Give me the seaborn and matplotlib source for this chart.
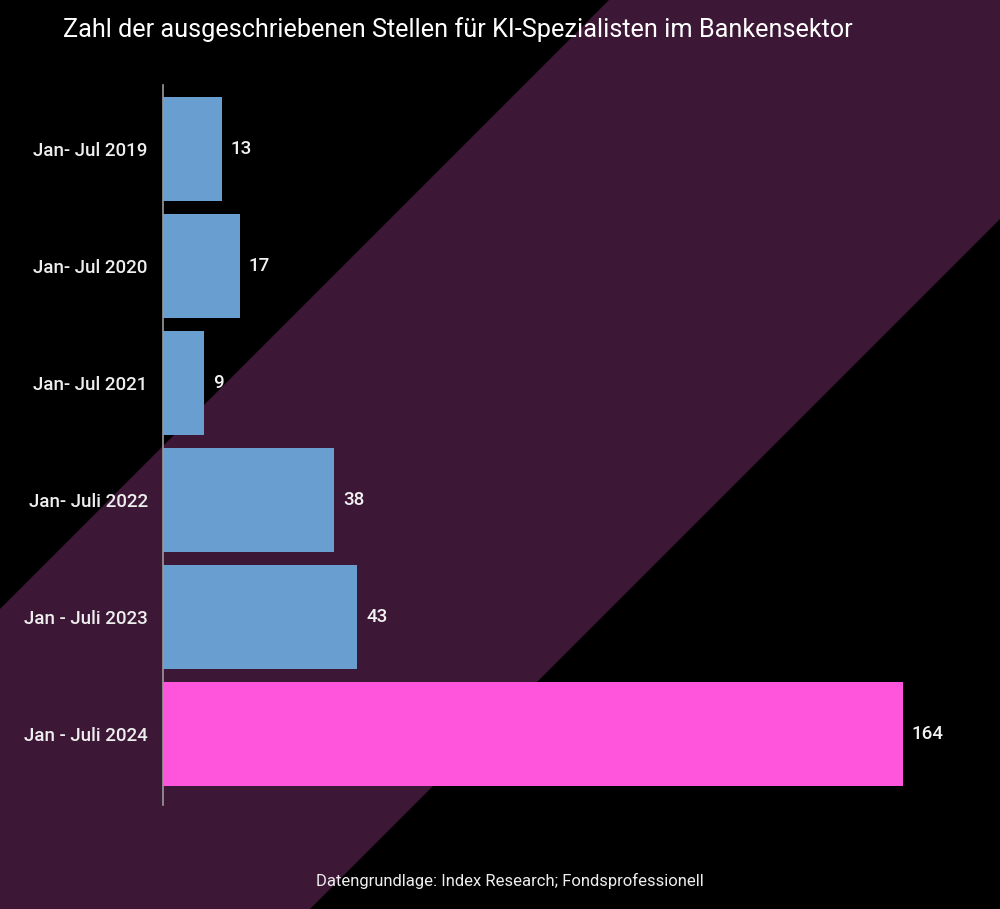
import matplotlib
matplotlib.use("Agg")
import matplotlib.pyplot as plt
from matplotlib.patches import Polygon
import seaborn as sns
import pandas as pd

categories = ["Jan- Jul 2019", "Jan- Jul 2020", "Jan- Jul 2021", "Jan- Juli 2022",
              "Jan - Juli 2023", "Jan - Juli 2024"]
values = [13, 17, 9, 38, 43, 164]
bar_colors = ["#689fd0", "#689fd0", "#689fd0", "#689fd0", "#689fd0", "#ff55dd"]
title = "Zahl der ausgeschriebenen Stellen für KI-Spezialisten im Bankensektor"
source = "Datengrundlage: Index Research; Fondsprofessionell"

sns.set_theme(style="dark")
plt.rcParams["font.family"] = ["Roboto", "DejaVu Sans"]

W, H = 1000, 909
fig = plt.figure(figsize=(W / 100, H / 100), dpi=100, facecolor="black")

# background axes for the diagonal purple band
bg = fig.add_axes([0, 0, 1, 1], zorder=0)
bg.set_xlim(0, W)
bg.set_ylim(H, 0)
bg.axis("off")
bg.add_patch(Polygon([(609, 0), (W, 0), (W, 219), (1219 - H, H), (0, H), (0, 609)],
                     closed=True, facecolor="#3d1836", edgecolor="none"))

ax = fig.add_axes([163 / W, 1 - 805 / H, 812 / W, 720 / H], zorder=2)
ax.set_facecolor("none")

df = pd.DataFrame({"cat": categories, "val": values})
sns.barplot(data=df, x="val", y="cat", hue="cat", palette=bar_colors, legend=False,
            width=0.89, ax=ax, saturation=1, edgecolor="none")

ax.set_xlim(0, 180)
ax.set_ylim(5.607, -0.547)
ax.set_xlabel("")
ax.set_ylabel("")
ax.set_xticks([])
ax.grid(False)
for s in ["top", "right", "bottom"]:
    ax.spines[s].set_visible(False)
ax.spines["left"].set_color("#9a9a9a")
ax.spines["left"].set_linewidth(1.2)
ax.tick_params(axis="y", length=0, pad=11, labelsize=13.5, labelcolor="#eeeeee")
for lab in ax.get_yticklabels():
    lab.set_fontweight("medium")

for i, v in enumerate(values):
    ax.annotate(str(v), xy=(v, i), xytext=(6.5, 0), textcoords="offset points",
                va="center", ha="left", color="#f2f2f2", fontsize=13.5, fontweight="medium")

fig.text(63 / W, 1 - 30 / H, title, color="white", fontsize=18.2, ha="left", va="center")
fig.text(510 / W, 1 - 881 / H, source, color="#eeeeee", fontsize=12, ha="center", va="center")

fig.savefig("out.png", dpi=100, facecolor="black")
